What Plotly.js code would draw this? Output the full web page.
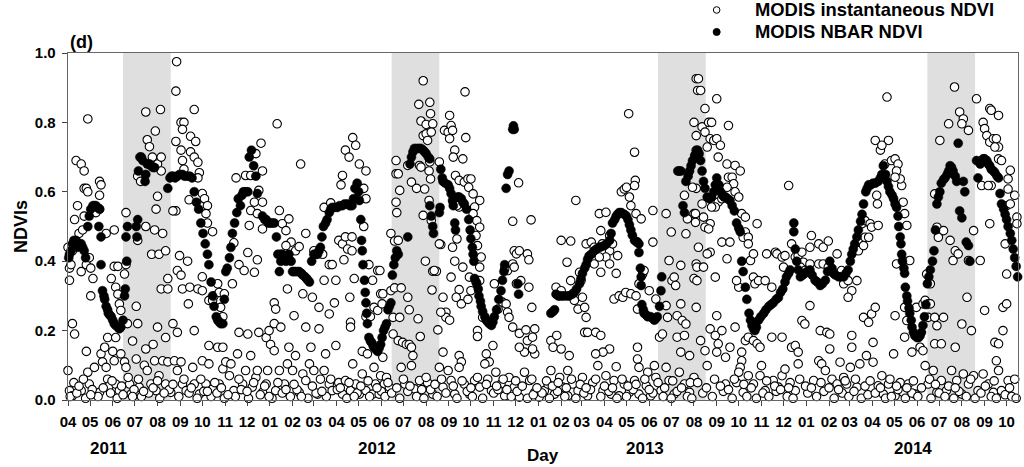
<!DOCTYPE html>
<html>
<head>
<meta charset="utf-8">
<script src="https://cdn.plot.ly/plotly-3.0.1.min.js"></script>
<style>html,body{margin:0;padding:0;background:#fff;}#chart{width:1024px;height:467px;}</style>
</head>
<body>
<div id="chart"></div>
<script>
// Day offsets are counted from 2011-04-01 (day 0)
const seriesStart = '2011-04-01';
const axisEndDay = 1294;
const panelLabel = '(d)';
const yTickValues = [0, 0.2, 0.4, 0.6, 0.8, 1.0];
const yearLabels = ['2011', '2012', '2013', '2014'];
const yearLabelDates = ['2011-05-26', '2012-05-26', '2013-05-26', '2014-05-26'];
const shadeStart = ['2011-06-15', '2012-06-15', '2013-06-13', '2014-06-15'];
const shadeEnd = ['2011-08-19', '2012-08-19', '2013-08-17', '2014-08-19'];
const seriesNames = ['MODIS instantaneous NDVI', 'MODIS NBAR NDVI'];

// MODIS NBAR NDVI: [day, NDVI]
const nbarNDVI = [
[1,.41],[2,.42],[4,.43],[6,.45],[8,.46],[11,.46],[13,.44],[15,.45],[18,.45],[20,.44],[22,.43],[24,.41],[27,.50],[29,.53],[31,.55],[34,.56],[36,.56],[38,.56],[40,.555],[43,.55],[42,.50],[45,.47],[45,.39],[47,.315],[49,.30],[50,.29],[52,.27],[54,.26],[55,.25],[57,.245],[59,.24],[61,.23],[63,.22],[65,.215],[68,.21],[70,.205],[72,.21],[75,.23],[77,.30],[78,.32],[80,.40],[79,.47],[81,.50],[93,.50],[95,.52],[94,.47],[96,.66],[98,.70],[100,.70],[102,.69],[105,.63],[106,.65],[108,.68],[111,.68],[113,.675],[116,.67],[118,.67],
[136,.61],[139,.64],[141,.645],[143,.645],[146,.64],[149,.645],[152,.65],[156,.65],[159,.645],[163,.645],[166,.645],[169,.64],[172,.60],[175,.57],[178,.55],[181,.51],[184,.48],[187,.45],[190,.42],[192,.39],[195,.34],[197,.30],[199,.27],[202,.24],[204,.23],[206,.225],[208,.22],[211,.22],[213,.29],[215,.37],[217,.38],[220,.41],[222,.44],[224,.48],[227,.51],[230,.54],[232,.58],[235,.56],[237,.59],[239,.60],[242,.60],[245,.60],[247,.70],[250,.72],[253,.675],[256,.645],[258,.595],
[265,.53],[268,.52],[270,.52],[273,.51],[275,.51],[278,.51],[281,.51],[284,.47],[286,.42],[288,.37],[290,.40],[292,.42],[295,.41],[297,.40],[299,.41],[301,.42],[304,.40],[306,.37],[308,.37],[310,.37],[313,.37],[315,.37],[318,.365],[320,.36],[323,.355],[325,.35],[327,.345],[329,.34],[332,.40],[335,.42],[338,.42],[340,.42],[342,.43],[344,.44],[346,.47],[348,.50],[351,.51],[353,.52],[356,.54],[358,.55],[360,.555],[363,.555],[367,.555],[370,.56],[374,.56],[377,.565],[381,.565],[384,.56],[387,.56],[389,.58],[391,.61],[394,.625],[396,.60],[397,.575],[399,.52],[400,.46],[401,.43],[402,.39],[404,.345],[405,.31],[406,.28],[407,.25],[408,.22],[410,.18],[412,.17],[414,.165],[416,.155],[418,.15],[420,.145],[422,.14],[424,.15],[426,.16],
[428,.18],[430,.20],[432,.21],[434,.22],[436,.26],[438,.27],[440,.28],[442,.36],[444,.39],[446,.41],[448,.43],[450,.42],[463,.47],[466,.68],[468,.70],[470,.715],[472,.725],[475,.725],[478,.725],[481,.725],[484,.72],[486,.715],[488,.71],[491,.70],[493,.695],[493,.56],[495,.53],[497,.50],[498,.48],[506,.54],[507,.555],[508,.665],[510,.64],[511,.63],[514,.625],[518,.62],[520,.61],[522,.595],[524,.575],[525,.56],[527,.51],[528,.49],[531,.585],[533,.585],[536,.58],[538,.57],[540,.565],[543,.55],[546,.52],[548,.49],[549,.465],[551,.44],[552,.42],[553,.40],[554,.35],[556,.34],[557,.335],[559,.32],[560,.30],[562,.285],[563,.27],[565,.255],[568,.24],[570,.23],[572,.225],[574,.22],[577,.215],[579,.225],[581,.24],[584,.26],[587,.29],[590,.315],[592,.345],[594,.37],[595,.39],[597,.61],[599,.65],[601,.66],[606,.78],[607,.79],[608,.78],[613,.335],[614,.305],
[658,.25],[661,.255],[663,.26],[665,.305],[668,.30],[670,.30],[673,.30],[676,.30],[680,.30],[683,.30],[687,.305],[690,.31],[693,.32],[697,.335],[699,.35],[701,.365],[704,.38],[706,.39],[708,.405],[710,.415],[713,.42],[717,.43],[720,.435],[724,.44],[727,.442],[731,.445],[734,.45],[738,.46],[740,.48],[742,.51],[745,.52],[747,.53],[749,.535],[751,.54],[754,.54],[758,.535],[761,.53],[763,.52],[765,.505],[767,.49],[769,.475],[772,.46],[775,.455],[778,.45],[778,.425],[780,.38],[781,.355],[781,.33],[782,.275],[784,.26],[785,.25],[788,.245],[790,.24],[794,.24],[797,.235],[799,.23],[801,.235],[803,.24],[806,.27],[808,.315],[809,.355],[831,.66],[833,.66],[835,.66],[838,.56],[840,.54],[842,.63],[845,.645],[847,.66],[849,.675],[851,.69],[854,.705],[856,.72],
[858,.72],[860,.71],[862,.69],[864,.66],[866,.63],[868,.61],[871,.585],[874,.58],[877,.585],[880,.60],[882,.62],[884,.64],[887,.62],[889,.60],[892,.59],[894,.585],[896,.585],[899,.58],[902,.575],[905,.56],[908,.545],[911,.51],[914,.495],[916,.485],[918,.40],[920,.37],[923,.325],[925,.29],[928,.25],[930,.23],[932,.215],[934,.205],[936,.20],[938,.21],[941,.23],[944,.24],[948,.25],[951,.26],[955,.27],[958,.275],[961,.28],[965,.29],[968,.295],[971,.31],[974,.32],[977,.34],[979,.355],[982,.365],[984,.375],[989,.51],[989,.485],[991,.435],[993,.40],[995,.375],[998,.355],[1001,.36],[1004,.365],[1007,.37],[1011,.375],[1014,.36],[1018,.345],[1021,.34],[1025,.33],[1028,.335],[1032,.345],[1035,.37],[1038,.40],[1041,.38],[1043,.365],[1046,.36],[1050,.355],[1053,.355],[1057,.355],[1060,.365],[1063,.375],[1066,.40],[1068,.42],[1070,.435],[1072,.45],[1075,.47],[1077,.49],[1080,.515],[1082,.535],[1084,.565],[1087,.60],[1089,.61],[1091,.62],[1094,.62],[1097,.625],[1100,.625],[1104,.63],[1107,.64],[1109,.65],[1111,.675],[1114,.65],[1116,.63],[1118,.615],[1120,.60],[1123,.59],[1125,.58],[1127,.565],[1129,.555],[1131,.53],[1132,.50],[1134,.47],[1135,.45],[1136,.42],[1137,.40],[1139,.38],[1140,.365],[1141,.325],[1143,.30],[1144,.285],[1146,.265],[1147,.25],[1149,.23],[1150,.21],[1152,.195],[1154,.185],[1157,.18],[1159,.18],[1161,.185],[1163,.195],[1165,.215],[1167,.24],[1169,.275],[1171,.335],[1173,.355],[1175,.375],[1178,.40],[1180,.43],[1182,.49],[1184,.565],[1186,.585],[1188,.60],[1190,.625],[1193,.635],[1195,.64],[1198,.65],[1200,.66],[1202,.675],[1204,.67],[1206,.66],[1209,.645],[1211,.63],[1213,.74],[1215,.545],[1218,.525],[1220,.63],[1222,.60],[1224,.455],[1227,.445],[1229,.40],[1238,.69],[1240,.64],[1243,.68],[1245,.69],[1247,.695],[1249,.695],[1252,.69],[1254,.68],[1256,.675],[1258,.665],[1261,.66],[1263,.655],[1266,.645],[1268,.64],[1270,.595],[1272,.565],[1275,.55],[1277,.535],[1279,.52],[1281,.50],[1284,.48],[1286,.46],[1288,.435],[1290,.41],[1292,.385],[1294,.355]
];

// MODIS instantaneous NDVI: [day, NDVI]
const instantaneousNDVI = [
[0,.44],[2,.38],[2,.345],[4,.39],[11,.69],[18,.68],[22,.66],[27,.81],[22,.61],[25,.61],[27,.60],[13,.56],[9,.52],[15,.48],[20,.49],[22,.53],[6,.43],[18,.37],[25,.39],[29,.41],[31,.38],[34,.35],[31,.30],[43,.63],[45,.62],[43,.59],[43,.55],[38,.54],[52,.48],[63,.49],[6,.22],[9,.19],[63,.385],[68,.385],[59,.35],[65,.325],[68,.305],[70,.277],[72,.258],[77,.363],[79,.39],[54,.18],[65,.18],[81,.22],[79,.54],[93,.27],[95,.22],
[106,.83],[108,.75],[111,.73],[119,.775],[126,.837],[95,.645],[99,.63],[115,.70],[122,.68],[127,.66],[127,.70],[122,.587],[120,.55],[106,.50],[118,.49],[129,.48],[95,.46],[114,.42],[124,.42],[133,.43],[127,.32],[136,.32],[136,.35],[88,.17],[122,.21],[116,.16],[133,.18],[143,.22],[149,.195],
[148,.975],[147,.89],[172,.837],[154,.80],[158,.80],[156,.78],[167,.76],[174,.745],[147,.745],[154,.72],[167,.715],[172,.70],[177,.685],[156,.69],[158,.665],[179,.655],[177,.64],[165,.577],[147,.545],[143,.545],[183,.595],[186,.58],[190,.56],[188,.537],[190,.51],[197,.485],[152,.416],[163,.40],[149,.373],[154,.36],[156,.32],[166,.325],[183,.355],[177,.32],[183,.315],[164,.277],[172,.20],[192,.287],[197,.287],[199,.30],[204,.335],[206,.31],[208,.267],[211,.24],[213,.306],
[226,.453],[224,.335],[229,.64],[233,.39],[240,.373],[245,.425],[254,.368],[258,.404],[247,.503],[242,.647],[249,.647],[256,.71],[263,.74],[265,.66],[249,.546],[254,.57],[260,.604],[265,.57],[258,.537],[265,.493],[192,.157],[204,.152],[211,.152],[233,.195],[245,.19],[260,.195],[270,.18],[274,.20],
[285,.796],[288,.546],[292,.508],[297,.488],[301,.522],[304,.455],[297,.445],[290,.42],[317,.68],[324,.48],[310,.43],[315,.442],[281,.28],[283,.262],[281,.22],[290,.21],[299,.32],[308,.243],[320,.306],[324,.21],[333,.296],[342,.267],[342,.205],[356,.248],[335,.43],[347,.42],[349,.345],[356,.39],[360,.39],[363,.28],[365,.345],[349,.555],[358,.568],[369,.46],[374,.45],[378,.47],[376,.404],[381,.435],[387,.43],[387,.47],[384,.296],[385,.224],[385,.21],[372,.62],[374,.647],[378,.72],[383,.70],[388,.756],[392,.734],[397,.68],[406,.66],[403,.61],[406,.58],[403,.50],[390,.35],[410,.39],[415,.345],[422,.373],[406,.24],[412,.24],[417,.267],[422,.258],[426,.306],[428,.277],[401,.14],[408,.133],[417,.094],[426,.07],
[0,.085],[2,.027],[6,.012],[18,.027],[25,.14],[27,.08],[29,.046],[36,.094],[38,.017],[43,.022],[45,.133],[50,.152],[47,.11],[52,.094],[54,.06],[56,.04],[61,.14],[63,.113],[65,.046],[70,.027],[72,.133],[77,.11],[79,.094],[84,.046],[86,.017],[93,.118],[97,.037],[104,.10],[106,.147],[108,.085],[113,.046],[118,.113],[120,.027],[124,.07],[129,.113],[133,.046],[136,.11],[140,.022],[145,.113],[149,.085],[154,.11],[156,.046],[161,.027],[170,.094],[172,.046],[179,.017],[183,.113],[188,.046],[192,.104],[197,.032],[206,.046],[211,.09],[215,.11],[220,.07],[222,.104],[226,.027],[231,.133],[238,.046],[242,.085],[249,.128],[251,.037],[256,.065],[258,.085],[265,.022],[270,.046],[272,.085],[276,.16],[281,.142],[283,.027],[288,.085],[295,.046],[299,.104],[301,.152],[306,.085],[310,.128],[315,.022],[320,.075],[324,.056],[329,.104],[331,.152],[335,.085],[340,.017],[344,.06],[349,.085],[351,.133],[356,.046],[360,.027],[365,.157],[369,.05],[374,.017],[378,.056],[385,.027],[388,.104],[392,.046],[397,.017],[401,.075],[406,.027],[415,.017],[419,.046],[424,.017],[431,.046],
[3,.01],[12,.02],[24,.005],[33,.03],[41,.01],[58,.02],[67,.005],[75,.015],[90,.03],[100,.01],[110,.02],[125,.005],[138,.03],[151,.01],[165,.02],[176,.005],[185,.025],[195,.01],[203,.02],[213,.005],[228,.01],[236,.03],[246,.005],[262,.015],[278,.005],[292,.02],[303,.01],[312,.03],[327,.005],[338,.02],[352,.01],[367,.03],[380,.005],[394,.02],[411,.01],[427,.025],
[8,.05],[15,.04],[21,.06],[31,.015],[48,.035],[60,.055],[73,.04],[82,.065],[88,.01],[96,.06],[103,.025],[116,.035],[122,.055],[131,.02],[143,.045],[158,.06],[168,.035],[181,.06],[190,.025],[200,.05],[209,.035],[218,.015],[233,.06],[244,.025],[253,.05],[268,.04],[274,.01],[286,.05],[297,.03],[308,.045],[318,.01],[333,.04],[346,.025],[358,.06],[371,.035],[383,.05],[390,.01],[399,.04],[409,.055],[421,.035],
[425,.373],[429,.306],[440,.48],[445,.458],[450,.46],[447,.69],[447,.652],[450,.652],[452,.604],[447,.57],[448,.54],[440,.315],[445,.323],[454,.323],[443,.238],[452,.238],[443,.19],[450,.171],[456,.166],[461,.16],[465,.16],[468,.152],[470,.128],[463,.296],[465,.26],[468,.628],[475,.61],[477,.234],[480,.183],[463,.676],[479,.676],[484,.92],[478,.852],[493,.858],[494,.825],[481,.804],[488,.794],[497,.796],[484,.762],[488,.767],[490,.748],[495,.772],[493,.686],[481,.671],[492,.66],[494,.637],[486,.608],[492,.575],[484,.532],[495,.517],[506,.686],[508,.448],[487,.40],[497,.371],[502,.371],[496,.317],[504,.202],[511,.138],
[513,.777],[518,.772],[520,.753],[522,.791],[524,.777],[520,.82],[527,.72],[525,.70],[538,.695],[542,.756],[541,.888],[528,.647],[533,.633],[540,.628],[545,.637],[549,.637],[546,.613],[552,.594],[561,.575],[554,.556],[552,.537],[557,.517],[561,.498],[556,.474],[558,.445],[563,.412],[561,.383],[533,.556],[525,.57],[530,.56],[530,.464],[524,.44],[506,.45],[527,.40],[499,.373],[538,.383],[547,.354],[522,.354],[533,.318],[529,.296],[536,.277],[545,.29],[549,.315],[511,.296],[515,.253],[515,.238],[508,.253],[520,.23],[533,.128],[536,.11],[558,.20],[558,.183],[561,.344],[579,.157],[570,.133],[574,.11],[565,.238],
[581,.335],[586,.262],[592,.282],[597,.277],[599,.253],[601,.238],[599,.373],[595,.378],[606,.392],[608,.43],[611,.421],[615,.43],[606,.515],[614,.626],[608,.383],[611,.335],[617,.344],[626,.421],[628,.404],[631,.519],[628,.325],[632,.267],[606,.21],[615,.192],[624,.202],[636,.205],[626,.171],[633,.181],[636,.133],[622,.138],[615,.152],[633,.147],[658,.171],[661,.152],[666,.186],[672,.147],[665,.325],[672,.315],[672,.46],[685,.458],[680,.397],[692,.575],[685,.344],[690,.287],[695,.262],[697,.368],[699,.344],[701,.296],[704,.267],[706,.238],[704,.195],[708,.195],[683,.128],[681,.085],
[706,.45],[713,.455],[717,.44],[717,.392],[724,.537],[726,.488],[728,.45],[733,.541],[738,.474],[738,.43],[733,.412],[724,.412],[726,.368],[738,.392],[742,.45],[749,.416],[747,.365],[744,.291],[751,.30],[756,.296],[760,.31],[767,.306],[774,.30],[747,.096],[719,.195],[726,.186],[738,.147],[729,.138],[719,.133],[754,.60],[758,.608],[761,.613],[765,.585],[764,.825],[772,.714],[773,.633],[772,.618],[767,.56],[774,.537],[781,.522],[776,.455],[783,.363],[778,.335],[785,.373],[797,.546],[797,.455],[776,.262],[792,.315],[801,.291],[776,.152],[776,.118],[778,.094],[790,.08],[799,.099],[806,.181],[810,.19],
[815,.537],[822,.484],[819,.402],[823,.344],[826,.354],[828,.33],[815,.272],[817,.238],[830,.243],[835,.277],[837,.229],[842,.219],[830,.181],[835,.138],[840,.186],[847,.128],[835,.388],[842,.479],[853,.537],[856,.61],[856,.392],[853,.35],[856,.267],[853,.80],[856,.926],[858,.892],[856,.762],[851,.613],[840,.59],[844,.522],
[429,.123],[434,.065],[438,.037],[454,.094],[459,.046],[468,.099],[472,.032],[479,.056],[490,.05],[497,.017],[506,.094],[511,.037],[518,.085],[522,.056],[527,.017],[533,.094],[540,.046],[547,.017],[554,.056],[561,.037],[568,.104],[572,.06],[577,.027],[583,.08],[590,.046],[595,.012],[601,.065],[608,.037],[615,.008],[622,.08],[629,.056],[636,.022],[642,.008],[649,.027],[654,.046],[658,.085],[663,.017],[670,.065],[674,.037],[681,.012],[688,.046],[695,.027],[701,.065],[708,.012],[715,.05],[722,.099],[729,.027],[733,.07],[740,.017],[744,.056],[751,.012],[758,.046],[765,.022],[772,.056],[778,.017],[788,.041],[794,.012],[801,.065],[808,.027],[815,.094],[819,.056],[826,.017],[833,.08],[840,.046],[847,.022],[853,.065],
[432,.01],[441,.02],[452,.005],[463,.025],[475,.01],[485,.005],[494,.03],[503,.01],[515,.02],[530,.005],[544,.025],[551,.01],[565,.005],[580,.02],[586,.03],[604,.01],[612,.025],[626,.005],[634,.015],[646,.02],[656,.005],[667,.025],[677,.01],[692,.005],[703,.02],[712,.03],[726,.01],[737,.025],[748,.005],[761,.01],[770,.03],[783,.005],[797,.02],[811,.01],[822,.005],[830,.025],[844,.01],[850,.005],
[436,.05],[448,.035],[457,.06],[466,.04],[482,.03],[488,.065],[500,.045],[509,.06],[525,.04],[537,.055],[549,.035],[558,.065],[570,.045],[584,.04],[593,.06],[598,.03],[610,.055],[619,.04],[632,.06],[639,.035],[652,.055],[660,.04],[668,.05],[679,.035],[686,.06],[698,.045],[706,.035],[719,.06],[731,.04],[742,.035],[755,.06],[763,.04],[774,.045],[786,.06],[792,.03],[804,.05],[813,.035],[824,.055],[836,.035],[848,.05],
[859,.926],[862,.892],[868,.84],[884,.868],[864,.787],[873,.80],[877,.80],[868,.772],[875,.753],[880,.748],[884,.753],[889,.734],[871,.729],[900,.791],[886,.70],[898,.68],[909,.676],[916,.66],[900,.642],[905,.642],[907,.623],[909,.60],[914,.585],[898,.613],[886,.57],[891,.58],[882,.556],[877,.556],[864,.565],[866,.527],[875,.508],[868,.498],[873,.493],[855,.537],[855,.512],[859,.44],[857,.383],[857,.344],[875,.426],[871,.421],[866,.383],[882,.354],[918,.537],[923,.527],[923,.484],[920,.469],[927,.469],[939,.508],[891,.455],[902,.455],[898,.407],[927,.45],[930,.402],[934,.421],[914,.325],[911,.344],[934,.354],[936,.335],[941,.344],[950,.344],[959,.325],[952,.421],[964,.426],[966,.421],[973,.412],[975,.383],[977,.416],[982,.618],[986,.45],[991,.412],[995,.416],[1000,.426],[1002,.397],[998,.383],[1004,.373],[1011,.392],[1013,.474],[1011,.44],[1023,.45],[1029,.44],[1036,.458],[1023,.392],[1029,.392],[1036,.383],[1045,.363],[1048,.421],[1054,.373],[1057,.335],[1063,.344],[1068,.315],[1063,.296],[1075,.344],
[1077,.43],[1084,.445],[1086,.469],[1082,.508],[1086,.517],[1093,.508],[1091,.469],[1095,.498],[1104,.503],[1100,.748],[1107,.72],[1118,.748],[1116,.873],[1109,.734],[1102,.59],[1103,.565],[1113,.68],[1122,.69],[1127,.695],[1131,.68],[1129,.66],[1136,.618],[1134,.637],[1127,.642],[1138,.57],[1140,.537],[1143,.503],[1129,.392],[1138,.402],[1147,.402],[1127,.243],[1140,.267],[1143,.229],[1140,.181],[1150,.138],[1156,.267],[1165,.277],[1168,.287],[1172,.277],[1172,.238],[1181,.238],[1175,.277],[1170,.363],[1175,.335],[1181,.594],[1184,.498],[1186,.469],[1193,.488],[1188,.748],[1200,.796],[1208,.902],[1215,.83],[1220,.81],[1218,.796],[1227,.777],[1202,.46],[1209,.43],[1206,.402],[1213,.421],[1234,.488],[1227,.402],[1243,.402],[1225,.296],[1218,.219],[1231,.20],[1209,.152],[1181,.162],[1190,.162],[1184,.214],[1193,.238],
[1238,.868],[1247,.80],[1249,.782],[1256,.84],[1258,.835],[1268,.82],[1252,.762],[1256,.743],[1261,.753],[1265,.753],[1268,.729],[1263,.729],[1268,.695],[1272,.69],[1245,.618],[1258,.618],[1254,.618],[1284,.662],[1281,.637],[1281,.608],[1290,.59],[1279,.56],[1284,.565],[1293,.527],[1293,.508],[1256,.508],[1277,.45],[1279,.363],[1274,.267],[1279,.277],[1274,.20],[1263,.166],[1268,.162],[1249,.258],[1265,.113],
[862,.171],[868,.142],[871,.099],[875,.205],[884,.243],[882,.186],[886,.162],[884,.138],[891,.20],[896,.123],[896,.046],[909,.21],[902,.152],[918,.138],[918,.113],[916,.094],[923,.171],[927,.181],[934,.171],[939,.162],[943,.152],[914,.08],[911,.05],[920,.022],[927,.07],[934,.046],[943,.07],[950,.027],[945,.099],[959,.181],[973,.181],[961,.056],[968,.037],[973,.07],[977,.089],[984,.05],[986,.152],[991,.157],[995,.138],[995,.104],[991,.027],[1000,.229],[1004,.219],[1011,.272],[1016,.056],[1023,.113],[1025,.20],[1027,.104],[1032,.085],[1034,.195],[1038,.19],[1038,.147],[1041,.06],[1048,.046],[1052,.109],[1057,.065],[1061,.046],[1066,.094],[1068,.152],[1068,.186],[1075,.037],[1079,.104],[1084,.238],[1091,.224],[1095,.248],[1100,.267],[1097,.166],[1088,.128],[1097,.109],[1104,.041],[1109,.07],[1111,.017],[1118,.046],[1125,.133],[1127,.012],[1134,.05],[1138,.022],[1145,.046],[1154,.017],[1161,.152],[1165,.142],[1168,.099],[1172,.046],[1179,.085],[1184,.022],[1190,.056],[1197,.027],[1204,.085],[1211,.056],[1218,.017],[1220,.075],[1227,.046],[1234,.07],[1240,.027],[1247,.075],[1254,.046],[1261,.022],[1268,.085],[1272,.027],[1281,.056],[1290,.06],
[865,.02],[878,.01],[893,.025],[905,.005],[925,.01],[938,.005],[947,.02],[955,.01],[965,.025],[980,.01],[988,.005],[1008,.02],[1020,.01],[1030,.025],[1044,.005],[1055,.02],[1064,.01],[1071,.025],[1081,.005],[1090,.015],[1100,.02],[1114,.005],[1122,.01],[1131,.03],[1141,.005],[1150,.02],[1158,.01],[1176,.005],[1187,.02],[1195,.01],[1207,.005],[1214,.025],[1224,.01],[1236,.005],[1244,.02],[1258,.01],[1265,.005],[1277,.015],[1286,.01],[1292,.005],
[858,.05],[870,.035],[881,.06],[889,.04],[900,.03],[908,.06],[921,.045],[931,.035],[952,.055],[963,.04],[971,.03],[982,.035],[997,.06],[1005,.04],[1013,.035],[1026,.05],[1037,.035],[1050,.03],[1059,.055],[1073,.06],[1086,.04],[1093,.055],[1107,.035],[1120,.06],[1129,.04],[1143,.035],[1152,.055],[1163,.035],[1174,.06],[1182,.045],[1200,.04],[1209,.035],[1230,.06],[1250,.04],[1262,.055],[1283,.035]
];

const dayMs = 86400000;
const base = Date.parse(seriesStart + 'T00:00:00Z');
function dayToDate(d) { return new Date(base + d * dayMs).toISOString().slice(0, 10); }

const FONT = 'Liberation Sans, Arial, sans-serif';
const BOLD = (size) => ({ family: FONT, size: size, color: '#000', weight: 700 });

const traceInst = {
  type: 'scatter', mode: 'markers', name: seriesNames[0], showlegend: false,
  x: instantaneousNDVI.map(p => dayToDate(p[0])),
  y: instantaneousNDVI.map(p => p[1]),
  marker: { symbol: 'circle', size: 8.5, color: '#ffffff', line: { color: '#000000', width: 1.1 } },
  cliponaxis: false
};
const traceNbar = {
  type: 'scatter', mode: 'markers', name: seriesNames[1], showlegend: false,
  x: nbarNDVI.map(p => dayToDate(p[0])),
  y: nbarNDVI.map(p => p[1]),
  marker: { symbol: 'circle', size: 9, color: '#000000', line: { color: '#000000', width: 0.5 } },
  cliponaxis: false
};

const shapes = shadeStart.map((s, i) => ({
  type: 'rect', xref: 'x', yref: 'paper', x0: s, x1: shadeEnd[i], y0: 0, y1: 1,
  fillcolor: '#dfdfdf', line: { width: 0 }, layer: 'below'
}));

// legend drawn as markers + text in paper coordinates
const legendMarkerX = 0.6828, legendTextX = 0.7207;
const legendRowY = [1.124, 1.0606];
shapes.push({ type: 'circle', xref: 'paper', yref: 'paper', xsizemode: 'pixel', ysizemode: 'pixel',
  xanchor: legendMarkerX, yanchor: legendRowY[0], x0: -3.3, x1: 3.3, y0: -3.3, y1: 3.3,
  fillcolor: '#ffffff', line: { color: '#000', width: 1 } });
shapes.push({ type: 'circle', xref: 'paper', yref: 'paper', xsizemode: 'pixel', ysizemode: 'pixel',
  xanchor: legendMarkerX, yanchor: legendRowY[1], x0: -3.5, x1: 3.5, y0: -3.5, y1: 3.5,
  fillcolor: '#000000', line: { color: '#000', width: 1 } });

const annotations = yearLabels.map((t, i) => ({
  text: t, xref: 'x', yref: 'paper', x: yearLabelDates[i], y: -0.14,
  xanchor: 'center', yanchor: 'middle', showarrow: false, font: BOLD(17)
}));
annotations.push({ text: 'Day', xref: 'paper', yref: 'paper', x: 0.5, y: -0.16, xanchor: 'center', yanchor: 'middle', showarrow: false, font: BOLD(17) });
annotations.push({ text: 'NDVIs', xref: 'paper', yref: 'paper', x: -0.05, y: 0.5, textangle: -90, xanchor: 'center', yanchor: 'middle', showarrow: false, font: BOLD(18) });
annotations.push({ text: panelLabel, xref: 'paper', yref: 'paper', x: 0, y: 1.033, xanchor: 'left', yanchor: 'middle', showarrow: false, font: BOLD(18) });
seriesNames.forEach((n, i) => annotations.push({ text: n, xref: 'paper', yref: 'paper', x: legendTextX, y: legendRowY[i],
  xanchor: 'left', yanchor: 'middle', showarrow: false, font: BOLD(18.4) }));

const layout = {
  width: 1024, height: 467,
  margin: { l: 68, r: 6, t: 53, b: 67, pad: 0 },
  paper_bgcolor: '#ffffff', plot_bgcolor: '#ffffff',
  showlegend: false,
  xaxis: {
    type: 'date', range: [dayToDate(0) + ' 00:00', dayToDate(axisEndDay) + ' 12:00'],
    tick0: seriesStart, dtick: 'M1', tickformat: '%m',
    ticks: 'outside', ticklen: 5, tickwidth: 1, tickcolor: '#444', ticklabelstandoff: 3,
    showgrid: false, zeroline: false, showline: true, linecolor: '#666', linewidth: 1.3, mirror: true,
    tickfont: BOLD(15)
  },
  yaxis: {
    range: [0, 1], tickvals: yTickValues, tickformat: '.1f',
    ticks: 'outside', ticklen: 5, tickwidth: 1, tickcolor: '#444', ticklabelstandoff: 3,
    showgrid: false, zeroline: false, showline: true, linecolor: '#666', linewidth: 1.3, mirror: true,
    tickfont: BOLD(15)
  },
  shapes: shapes,
  annotations: annotations
};

Plotly.newPlot('chart', [traceInst, traceNbar], layout, { staticPlot: true, displayModeBar: false });
</script>
</body>
</html>
